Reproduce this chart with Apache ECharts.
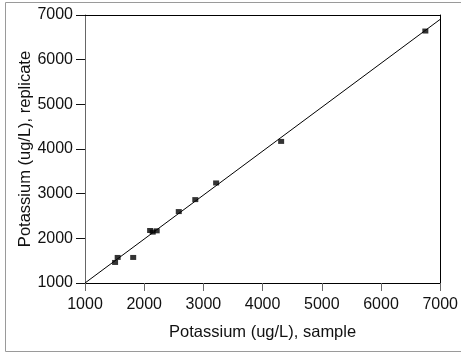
<!DOCTYPE html>
<html><head><meta charset="utf-8">
<script src="https://cdn.jsdelivr.net/npm/echarts@6/dist/echarts.min.js"></script>
<style>html,body{margin:0;padding:0;background:#fff;}#c{width:461px;height:355px;}</style>
</head><body><div id="c"></div>
<script>
const sample = [1508, 1552, 1814, 2100, 2144, 2211, 2584, 2863, 3215, 4313, 6749];
const replicate = [1460, 1572, 1572, 2175, 2139, 2168, 2599, 2867, 3240, 4170, 6641];
const fitLineX = [1000, 7000];
const fitLineY = [1000, 6903];
const xTitle = 'Potassium (ug/L), sample';
const yTitle = 'Potassium (ug/L), replicate';

const FONT = '"Liberation Sans", Arial, sans-serif';
const chart = echarts.init(document.getElementById('c'), null, {renderer: 'canvas'});
chart.setOption({
  animation: false,
  graphic: [{type: 'rect', shape: {x: 5.5, y: 2.5, width: 500, height: 349}, style: {fill: 'none', stroke: '#9a9a9a', lineWidth: 1}, silent: true}],
  grid: {left: 85, right: 17, top: 15, bottom: 72, show: false},
  xAxis: [{
    type: 'value', min: 1000, max: 7000, interval: 1000,
    name: xTitle, nameLocation: 'middle', nameGap: 41, nameMoveOverlap: false,
    nameTextStyle: {fontFamily: FONT, fontSize: 16.5, color: '#111'},
    axisLine: {onZero: false, lineStyle: {color: '#000', width: 1}},
    axisTick: {inside: false, length: 8, lineStyle: {color: '#666'}},
    axisLabel: {fontFamily: FONT, fontSize: 16, color: '#111', margin: 14, formatter: v => String(v)},
    splitLine: {show: false}
  }, {
    type: 'value', position: 'top', min: 1000, max: 7000,
    axisLine: {onZero: false, lineStyle: {color: '#000'}}, axisTick: {show: false}, axisLabel: {show: false}, splitLine: {show: false}
  }],
  yAxis: [{
    type: 'value', min: 1000, max: 7000, interval: 1000,
    name: yTitle, nameLocation: 'middle', nameGap: 51, nameMoveOverlap: false,
    nameTextStyle: {fontFamily: FONT, fontSize: 16.5, color: '#111'},
    axisLine: {onZero: false, lineStyle: {color: '#666', width: 1}},
    axisTick: {inside: false, length: 9, lineStyle: {color: '#111'}},
    axisLabel: {fontFamily: FONT, fontSize: 16, color: '#111', margin: 12, formatter: v => String(v)},
    splitLine: {show: false}
  }, {
    type: 'value', position: 'right', min: 1000, max: 7000,
    axisLine: {show: true, onZero: false, lineStyle: {color: '#000'}}, axisTick: {show: false}, axisLabel: {show: false}, splitLine: {show: false}
  }],
  series: [{
    type: 'line', data: fitLineX.map((x, i) => [x, fitLineY[i]]),
    symbol: 'none', lineStyle: {color: '#000', width: 1}, silent: true
  }, {
    type: 'scatter', data: sample.map((x, i) => [x, replicate[i]]),
    symbol: 'rect', symbolSize: [6, 5], itemStyle: {color: '#000'}, z: 5
  }]
});
</script></body></html>
